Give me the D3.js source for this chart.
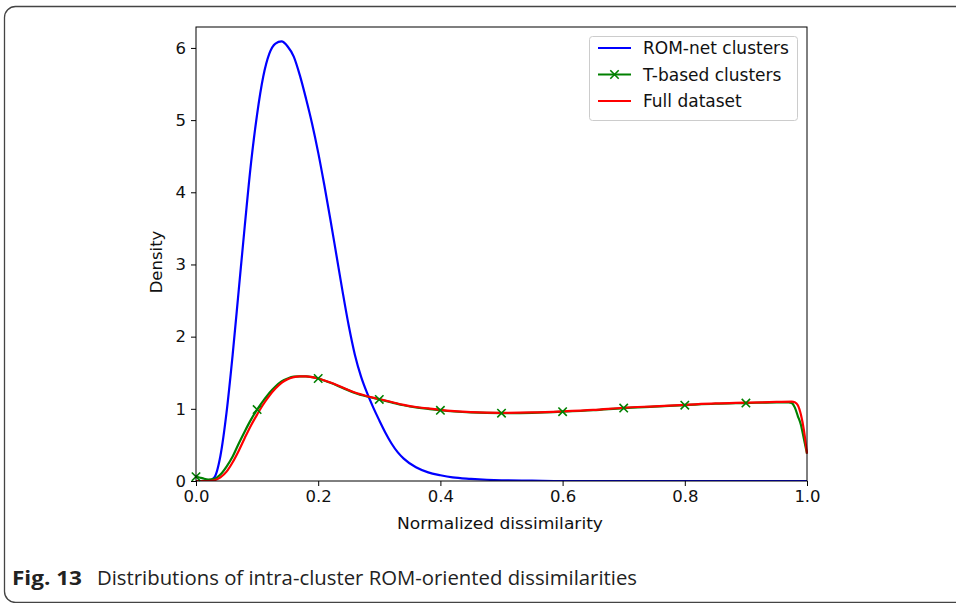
<!DOCTYPE html>
<html>
<head>
<meta charset="utf-8">
<script src="https://cdn.jsdelivr.net/npm/d3@7"></script>
<style>
  html, body { margin: 0; padding: 0; background: #fff; }
  svg { display: block; }
</style>
</head>
<body>
<svg id="chart" width="956" height="603"></svg>
<script>
// ---- data ----
const romNetX = [0, 0.02, 0.03, 0.04, 0.05, 0.06, 0.07, 0.08, 0.09, 0.10, 0.11, 0.12, 0.13, 0.14, 0.15, 0.16, 0.17, 0.18, 0.19, 0.20, 0.21, 0.22, 0.23, 0.24, 0.25, 0.26, 0.27, 0.28, 0.29, 0.30, 0.31, 0.32, 0.33, 0.34, 0.36, 0.38, 0.40, 0.42, 0.45, 0.50, 0.55, 0.60, 0.70, 0.80, 0.90, 1.00];
const romNetY = [0, 0, 0.05, 0.35, 0.95, 1.75, 2.65, 3.55, 4.40, 5.08, 5.60, 5.92, 6.06, 6.09, 6.02, 5.88, 5.62, 5.30, 4.95, 4.55, 4.10, 3.62, 3.12, 2.62, 2.15, 1.75, 1.45, 1.22, 1.02, 0.84, 0.67, 0.52, 0.40, 0.31, 0.19, 0.12, 0.08, 0.05, 0.03, 0.01, 0.005, 0, 0, 0, 0, 0];

const tBasedX = [0, 0.01, 0.02, 0.03, 0.04, 0.05, 0.06, 0.07, 0.08, 0.09, 0.10, 0.11, 0.12, 0.13, 0.14, 0.15, 0.16, 0.17, 0.18, 0.19, 0.20, 0.22, 0.24, 0.26, 0.28, 0.30, 0.32, 0.34, 0.36, 0.38, 0.40, 0.45, 0.50, 0.55, 0.60, 0.65, 0.70, 0.75, 0.80, 0.85, 0.90, 0.95, 0.97, 0.975, 0.98, 0.985, 0.99, 0.995, 1.00];
const tBasedY = [0.06, 0.04, 0.02, 0.03, 0.09, 0.20, 0.34, 0.52, 0.69, 0.85, 0.99, 1.11, 1.22, 1.31, 1.38, 1.42, 1.445, 1.45, 1.45, 1.44, 1.42, 1.36, 1.29, 1.22, 1.17, 1.13, 1.09, 1.05, 1.02, 1.00, 0.98, 0.95, 0.94, 0.945, 0.96, 0.98, 1.01, 1.03, 1.05, 1.07, 1.08, 1.09, 1.09, 1.08, 1.02, 0.90, 0.78, 0.58, 0.38];
const tBasedMarkerX = [0, 0.1, 0.2, 0.3, 0.4, 0.5, 0.6, 0.7, 0.8, 0.9];

const fullX = [0, 0.02, 0.03, 0.04, 0.05, 0.06, 0.07, 0.08, 0.09, 0.10, 0.11, 0.12, 0.13, 0.14, 0.15, 0.16, 0.17, 0.18, 0.19, 0.20, 0.22, 0.24, 0.26, 0.28, 0.30, 0.32, 0.34, 0.36, 0.38, 0.40, 0.45, 0.50, 0.55, 0.60, 0.65, 0.70, 0.75, 0.80, 0.85, 0.90, 0.95, 0.975, 0.98, 0.985, 0.99, 0.995, 1.00];
const fullY = [0, 0, 0.01, 0.05, 0.13, 0.26, 0.42, 0.60, 0.77, 0.92, 1.06, 1.18, 1.28, 1.36, 1.41, 1.44, 1.45, 1.45, 1.44, 1.42, 1.365, 1.295, 1.225, 1.175, 1.135, 1.095, 1.055, 1.025, 1.005, 0.985, 0.955, 0.945, 0.95, 0.965, 0.985, 1.015, 1.035, 1.055, 1.075, 1.085, 1.095, 1.10, 1.09, 1.05, 0.92, 0.70, 0.38];

const xTicks = [0, 0.2, 0.4, 0.6, 0.8, 1.0];
const yTicks = [0, 1, 2, 3, 4, 5, 6];
const seriesNames = ["ROM-net clusters", "T-based clusters", "Full dataset"];
const seriesColors = ["#0000ff", "#008000", "#ff0000"];

// ---- layout ----
const svg = d3.select("#chart");
const L = 196, R = 807, T = 27, B = 481;
const x = d3.scaleLinear().domain([0, 1]).range([L, R]);
const y = d3.scaleLinear().domain([0, 6.29]).range([B, T]);

// outer frame
svg.append("rect")
  .attr("x", 4.5).attr("y", 6.5).attr("width", 1000).attr("height", 596)
  .attr("rx", 11).attr("ry", 11)
  .attr("fill", "none").attr("stroke", "#444").attr("stroke-width", 1.3);

const font = "DejaVu Sans, sans-serif";
const fs = 16.5;

// clip
svg.append("clipPath").attr("id", "clip").append("rect")
  .attr("x", L).attr("y", T - 5).attr("width", R - L + 1).attr("height", B - T + 5);

const line = (xs, ys) => d3.line()
  .x((d, i) => x(xs[i])).y((d, i) => y(ys[i]))
  .curve(d3.curveMonotoneX)(ys);

const g = svg.append("g").attr("clip-path", "url(#clip)");
g.append("path").attr("d", line(romNetX, romNetY))
  .attr("fill", "none").attr("stroke", seriesColors[0]).attr("stroke-width", 2.2);
g.append("path").attr("d", line(tBasedX, tBasedY))
  .attr("fill", "none").attr("stroke", seriesColors[1]).attr("stroke-width", 2.2);

// markers (x)
const ms = 4.2;
const markerPts = tBasedMarkerX.map(mx => [mx, tBasedY[tBasedX.indexOf(mx)]]);
svg.append("g").selectAll("path").data(markerPts).join("path")
  .attr("d", d => {
    const cx = x(d[0]), cy = y(d[1]);
    return `M${cx - ms},${cy - ms}L${cx + ms},${cy + ms}M${cx - ms},${cy + ms}L${cx + ms},${cy - ms}`;
  })
  .attr("stroke", seriesColors[1]).attr("stroke-width", 1.6).attr("fill", "none");

g.append("path").attr("d", line(fullX, fullY))
  .attr("fill", "none").attr("stroke", seriesColors[2]).attr("stroke-width", 2.2);

// axes
const xAxis = d3.axisBottom(x).tickValues(xTicks).tickFormat(d3.format(".1f")).tickSizeOuter(0).tickSize(5).tickPadding(4);
const yAxis = d3.axisLeft(y).tickValues(yTicks).tickFormat(d3.format("d")).tickSizeOuter(0).tickSize(5).tickPadding(5);
const gx = svg.append("g").attr("transform", `translate(0,${B})`).call(xAxis);
const gy = svg.append("g").attr("transform", `translate(${L},0)`).call(yAxis);
[gx, gy].forEach(a => {
  a.selectAll("text").attr("font-family", font).attr("font-size", fs).attr("fill", "#111");
  a.selectAll("line").attr("stroke", "#000").attr("stroke-width", 1);
  a.select(".domain").remove();
});
// spines
svg.append("rect").attr("x", L).attr("y", T).attr("width", R - L).attr("height", B - T)
  .attr("fill", "none").attr("stroke", "#000").attr("stroke-width", 1);

// axis labels
svg.append("text").attr("x", 500).attr("y", 529).attr("text-anchor", "middle")
  .attr("font-family", font).attr("font-size", fs).attr("fill", "#111")
  .attr("textLength", 206).attr("lengthAdjust", "spacingAndGlyphs").text("Normalized dissimilarity");
svg.append("text").attr("transform", "translate(162,262) rotate(-90)").attr("text-anchor", "middle")
  .attr("font-family", font).attr("font-size", fs).attr("fill", "#111").text("Density");

// legend
const lg = svg.append("g");
lg.append("rect").attr("x", 589.5).attr("y", 36.5).attr("width", 208).attr("height", 84).attr("rx", 3)
  .attr("fill", "#fff").attr("fill-opacity", 0.8).attr("stroke", "#ccc").attr("stroke-width", 1);
seriesNames.forEach((name, i) => {
  const yy = 48 + i * 26.5;
  lg.append("line").attr("x1", 598).attr("x2", 631).attr("y1", yy).attr("y2", yy)
    .attr("stroke", seriesColors[i]).attr("stroke-width", 2.2);
  if (i === 1) {
    const cx = 614.5;
    lg.append("path").attr("d", `M${cx - ms},${yy - ms}L${cx + ms},${yy + ms}M${cx - ms},${yy + ms}L${cx + ms},${yy - ms}`)
      .attr("stroke", seriesColors[1]).attr("stroke-width", 1.6);
  }
  lg.append("text").attr("x", 643).attr("y", yy + 6).attr("font-family", font).attr("font-size", 17)
    .attr("fill", "#111").text(name);
});

// caption
svg.append("text").attr("x", 12).attr("y", 585).attr("font-family", "Open Sans, sans-serif")
  .attr("font-size", 20).attr("font-weight", "bold").attr("fill", "#222")
  .attr("textLength", 70).attr("lengthAdjust", "spacingAndGlyphs").text("Fig. 13");
svg.append("text").attr("x", 97).attr("y", 585).attr("font-family", "Open Sans, sans-serif")
  .attr("font-size", 20).attr("fill", "#222")
  .attr("textLength", 540).attr("lengthAdjust", "spacingAndGlyphs")
  .text("Distributions of intra-cluster ROM-oriented dissimilarities");
</script>
</body>
</html>
